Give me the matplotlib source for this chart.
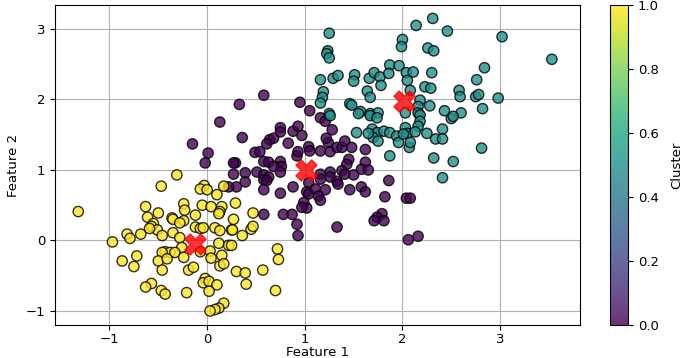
import numpy as np
import matplotlib
matplotlib.use('Agg')
import matplotlib.pyplot as plt

# cluster 0 (purple)
c0_x = [0.58, 0.33, 0.95, 1.05, 1.16, 1.21, 0.75, 0.75, 0.88, 0.93, 0.97, 1.28, 0.36, 0.64, 0.68,
        0.61, 0.83, 1.04, 1.05, 1.16, 1.24, 1.22, 1.26, 1.33, 1.38, 1.41, 1.48, 1.62, 0.49, 0.54,
        0.92, 0.93, 0.58, 0.63, 0.75, 0.76, 0.68, 0.29, 1.45, 1.43, 1.62, 1.58, 1.65, 1.38, 1.41,
        1.50, 1.26, 1.16, 0.39, 0.51, 0.58, 0.63, 0.75, 0.27, 1.26, 1.33, 1.34, 1.04, 1.16, 1.86,
        0.39, 0.58, 0.61, 0.30, 0.58, 0.88, 0.75, 1.02, 1.04, 1.11, 1.21, 1.14, 1.16, 0.99, 1.02,
        0.97, 1.46, 1.58, 1.62, 1.82, 1.79, 1.74, 2.04, 0.58, 0.78, 0.87, 0.13, -0.15, 0.01, -0.02,
        0.27, 0.22, 0.92, 0.93, 1.33, 1.71, 1.81, 2.06, 2.16, 2.08]
c0_y = [2.06, 1.93, 1.96, 1.84, 1.74, 1.69, 1.60, 1.54, 1.55, 1.62, 1.49, 1.57, 1.46, 1.43, 1.45,
        1.37, 1.38, 1.33, 1.27, 1.27, 1.39, 1.45, 1.26, 1.32, 1.32, 1.41, 1.32, 1.29, 1.25, 1.26,
        1.20, 1.26, 1.12, 1.11, 1.12, 1.05, 1.05, 1.10, 1.15, 1.08, 1.11, 1.01, 1.00, 0.99, 0.94,
        0.93, 0.97, 0.94, 0.96, 0.97, 0.93, 0.90, 0.97, 0.94, 0.90, 0.84, 0.80, 0.82, 0.87, 0.85,
        0.83, 0.86, 0.85, 0.76, 0.72, 0.76, 0.67, 0.69, 0.66, 0.73, 0.72, 0.63, 0.57, 0.54, 0.46,
        0.47, 0.72, 0.76, 0.69, 0.62, 0.38, 0.33, 0.60, 0.37, 0.37, 0.37, 1.68, 1.37, 1.24, 1.10,
        1.10, 0.76, 0.23, 0.07, 0.19, 0.28, 0.28, 0.01, 0.06, 0.60]

# cluster 1 (teal)
c1_x = [1.25, 2.00, 1.99, 1.235, 1.225, 1.25, 1.87, 1.965, 2.04, 1.16, 1.29, 1.34, 1.51, 1.50, 1.66,
        1.71, 1.77, 1.86, 2.05, 1.78, 1.19, 1.18, 1.16, 1.64, 1.67, 1.46, 1.48, 1.57, 1.67, 1.75,
        1.25, 2.03, 2.31, 2.14, 2.46, 3.02, 3.53, 2.26, 2.32, 2.84, 2.76, 2.11, 2.30, 2.23, 2.29,
        2.08, 2.58, 2.59, 2.75, 2.78, 2.98, 2.18, 2.28, 2.16, 2.43, 2.60, 2.82, 2.16, 2.18, 2.18,
        2.16, 2.03, 2.05, 2.13, 2.25, 2.50, 2.52, 2.41, 2.34, 2.41, 2.07, 2.81, 2.32, 2.52, 2.41,
        1.26, 1.55, 1.67, 1.74, 1.53, 1.69, 1.74, 1.70, 1.75, 1.81, 1.87, 1.94, 1.96, 2.01, 2.08,
        1.87, 1.65]
c1_y = [2.94, 2.85, 2.75, 2.69, 2.65, 2.59, 2.49, 2.48, 2.38, 2.28, 2.30, 2.34, 2.35, 2.26, 2.30,
        2.38, 2.32, 2.37, 2.27, 2.20, 2.11, 2.03, 1.95, 2.12, 2.03, 1.94, 1.92, 1.83, 1.80, 1.81,
        1.80, 1.81, 3.15, 3.05, 2.97, 2.89, 2.57, 2.73, 2.69, 2.45, 2.28, 2.39, 2.38, 2.18, 2.16,
        2.13, 2.13, 2.04, 2.04, 2.07, 2.02, 1.99, 1.91, 1.90, 1.84, 1.81, 1.87, 1.81, 1.78, 1.69,
        1.62, 1.60, 1.52, 1.54, 1.52, 1.73, 1.76, 1.58, 1.44, 1.44, 1.32, 1.31, 1.17, 1.12, 0.89,
        1.77, 1.80, 1.77, 1.74, 1.53, 1.58, 1.53, 1.46, 1.41, 1.55, 1.53, 1.48, 1.39, 1.51, 1.39,
        1.20, 1.52]

# cluster 2 (yellow)
c2_x = [0.29, 0.47, -0.31, -0.47, -0.03, -0.07, 0.00, 0.17, 0.10, -0.24, -0.23, -0.63, -0.50, -0.05,
        0.04, 0.15, 0.13, 0.12, -1.32, -0.12, -0.36, -0.61, -0.55, -0.57, -0.51, -0.59, -0.35, -0.24,
        -0.28, -0.82, -0.79, -0.68, -0.46, -0.35, -0.28, -0.97, -0.12, -0.07, -0.04, 0.08, 0.13, 0.25,
        0.12, 0.22, -0.26, -0.43, -0.38, -0.33, -0.46, 0.03, -0.07, 0.04, 0.15, -0.72, -0.87, -0.50,
        -0.41, -0.24, -0.75, -0.46, -0.19, -0.14, 0.13, 0.17, -0.02, -0.04, 0.02, 0.10, -0.57, -0.63,
        -0.47, -0.43, -0.21, 0.02, 0.17, 0.12, 0.08, 0.03, 0.27, 0.26, 0.36, 0.45, 0.47, 0.25, 0.72,
        0.73, 0.57, 0.30, 0.39, 0.40, 0.70]
c2_y = [0.53, 0.39, 0.93, 0.77, 0.78, 0.73, 0.72, 0.77, 0.65, 0.52, 0.43, 0.48, 0.39, 0.50,
        0.48, 0.48, 0.41, 0.38, 0.41, 0.36, 0.32, 0.33, 0.24, 0.20, 0.15, 0.17, 0.30, 0.28,
        0.25, 0.09, 0.03, 0.09, 0.07, 0.11, 0.04, -0.02, 0.19, 0.17, 0.18, 0.18, 0.14, 0.15,
        -0.04, -0.07, -0.10, -0.16, -0.17, -0.17, -0.17, -0.15, -0.16, -0.25, -0.21, -0.22, -0.29, -0.29,
        -0.26, -0.24, -0.37, -0.42, -0.42, -0.38, -0.36, -0.33, -0.54, -0.60, -0.58, -0.63, -0.61, -0.66,
        -0.71, -0.76, -0.74, -0.72, -0.89, -0.96, -0.98, -1.00, 0.30, 0.15, 0.07, 0.16, 0.20, -0.07, -0.12,
        -0.27, -0.42, -0.44, -0.46, -0.62, -0.71]

centers_x = [-0.12, 1.01, 2.02]
centers_y = [-0.05, 1.00, 1.98]

x = np.array(c0_x + c1_x + c2_x)
y = np.array(c0_y + c1_y + c2_y)
labels = np.array([0.0] * len(c0_x) + [0.5] * len(c1_x) + [1.0] * len(c2_x))

fig = plt.figure(figsize=(6.85, 3.58), dpi=100)
ax = fig.add_axes([0.080, 0.092, 0.767, 0.894])
cax = fig.add_axes([0.891, 0.092, 0.026, 0.894])

sc = ax.scatter(x, y, c=labels, cmap='viridis', vmin=0, vmax=1, s=55,
                edgecolors='k', alpha=0.8, zorder=2)
ax.scatter(centers_x, centers_y, c='red', marker='X', s=230, alpha=0.8, zorder=3)

ax.set_xlim(-1.56, 3.82)
ax.set_ylim(-1.2, 3.34)
ax.set_xticks([-1, 0, 1, 2, 3])
ax.set_yticks([-1, 0, 1, 2, 3])
ax.tick_params(axis='x', pad=2, labelsize=9.5)
ax.tick_params(axis='y', labelsize=9.5)
ax.set_xlabel('Feature 1', labelpad=0, fontsize=9.5)
ax.set_ylabel('Feature 2', fontsize=9.5)
ax.grid(True, zorder=0)
ax.set_axisbelow(True)

cb = fig.colorbar(sc, cax=cax)
cb.ax.tick_params(labelsize=9.5)
cb.set_label('Cluster', labelpad=8, fontsize=9.5)

fig.savefig('out.png', dpi=100)
